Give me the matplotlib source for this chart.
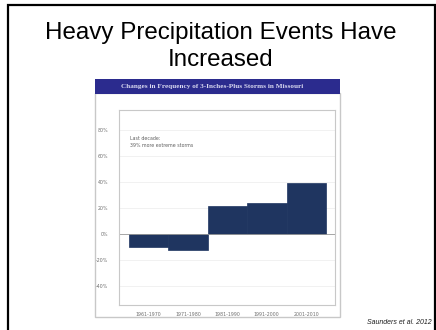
import matplotlib
matplotlib.use("Agg")
import matplotlib.pyplot as plt
from matplotlib.patches import Rectangle

decades = ["1961-1970", "1971-1980", "1981-1990", "1991-2000", "2001-2010"]
change_pct = [-10, -12.5, 21.5, 24, 39]
yticks = [-40, -20, 0, 20, 40, 60, 80]

W, H = 436, 330
fig = plt.figure(figsize=(W / 100, H / 100), dpi=100)
fig.patch.set_facecolor("white")


def fx(px):
    return px / W


def fy(py):
    return 1 - py / H


# slide frame (bottom edge runs off the canvas)
fig.patches.append(Rectangle((fx(8), fy(345)), fx(427), fy(5) - fy(345),
                             transform=fig.transFigure, fill=False,
                             edgecolor="black", linewidth=1.6, zorder=0))
fig.text(fx(221), fy(33), "Heavy Precipitation Events Have", ha="center", va="center",
         fontsize=17.4, family="Liberation Sans")
fig.text(fx(221), fy(60), "Increased", ha="center", va="center",
         fontsize=17.4, family="Liberation Sans")

# embedded chart: panel and header bar
fig.patches.append(Rectangle((fx(95), fy(317)), fx(245), fy(93) - fy(317),
                             transform=fig.transFigure, facecolor="white",
                             edgecolor="#c8c8c8", linewidth=1.0, zorder=0))
fig.patches.append(Rectangle((fx(95), fy(94)), fx(245), fy(79) - fy(94),
                             transform=fig.transFigure, facecolor="#2b2b8e",
                             edgecolor="none", zorder=0))
fig.text(fx(212), fy(86.5), "Changes in Frequency of 3-Inches-Plus Storms in Missouri",
         ha="center", va="center", fontsize=5.2, color="#d8d8f0",
         family="Liberation Serif", weight="bold")

ax = fig.add_axes([fx(119), fy(305), fx(335) - fx(119), fy(110) - fy(305)])
ax.set_zorder(2)
ax.patch.set_alpha(0)
ax.bar(range(len(change_pct)), change_pct, width=1, align="edge",
       color="#1f3560", edgecolor="#1f3560", linewidth=0.5)
ax.axhline(0, color="#9a9a9a", linewidth=0.6)
ax.set_xlim(-0.25, 5.23)
ax.set_ylim(-54.6, 95.4)
ax.set_yticks(yticks)
ax.set_yticklabels([f"{v}%" for v in yticks], fontsize=3.4, color="#707070")
ax.set_xticks([i + 0.5 for i in range(len(decades))])
ax.set_xticklabels(decades, fontsize=3.4, color="#707070")
ax.tick_params(length=0, pad=8)
ax.tick_params(axis="x", pad=5)
ax.grid(axis="y", color="#ececec", linewidth=0.5)
ax.set_axisbelow(True)
for s in ax.spines.values():
    s.set_color("#c8c8c8")
    s.set_linewidth(0.8)
ax.text(0.05, 0.865, "Last decade:\n39% more extreme storms", transform=ax.transAxes,
        fontsize=3.4, color="#606060", va="top", linespacing=1.5)

fig.text(fx(432), fy(322), "Saunders et al. 2012", ha="right", va="center",
         fontsize=5.0, style="italic", family="Liberation Sans", color="#202020")

fig.savefig("out.png", dpi=100)
